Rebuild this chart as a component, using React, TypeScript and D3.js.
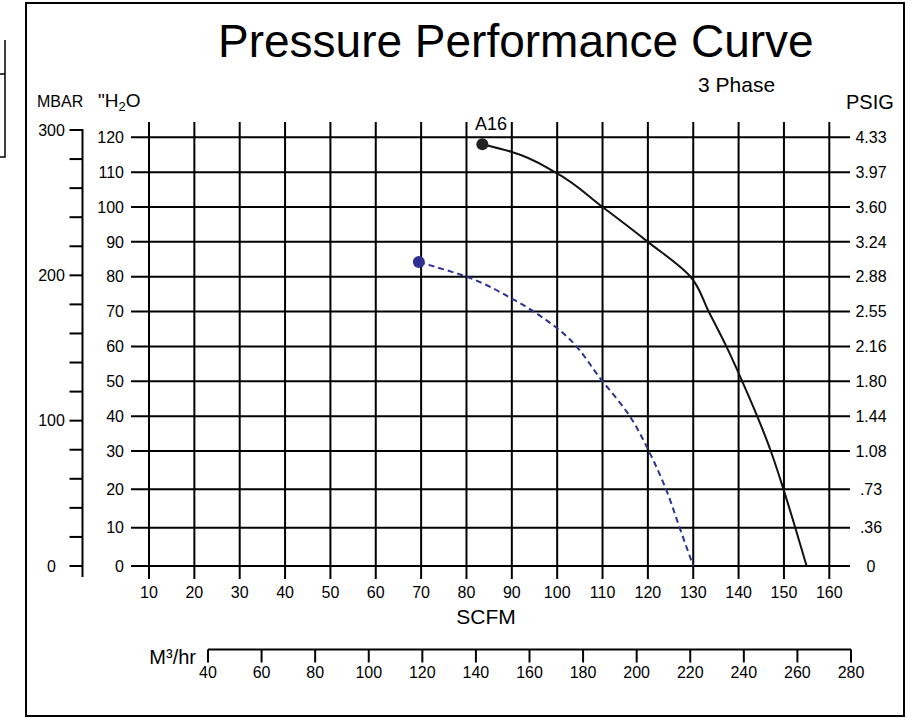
import React, { useEffect, useRef } from 'react';
import * as d3 from 'd3';

// axis values
const scfmTicks = [10, 20, 30, 40, 50, 60, 70, 80, 90, 100, 110, 120, 130, 140, 150, 160];
const h2oTicks = [0, 10, 20, 30, 40, 50, 60, 70, 80, 90, 100, 110, 120];
const psigLabels = ['0', '.36', '.73', '1.08', '1.44', '1.80', '2.16', '2.55', '2.88', '3.24', '3.60', '3.97', '4.33'];
const mbarTicks = [0, 20, 40, 60, 80, 100, 120, 140, 160, 180, 200, 220, 240, 260, 280, 300];
const mbarLabels = [0, 100, 200, 300];
const m3hrTicks = [40, 60, 80, 100, 120, 140, 160, 180, 200, 220, 240, 260, 280];

// A16 curve (solid black)
const a16Scfm = [83.5, 90, 99.5, 110, 120, 129.4, 133.4, 137.3, 140.8, 144.1, 147.1, 149.9, 152.5, 155];
const a16H2o = [118, 115.8, 110, 100, 90, 80, 70, 60, 50, 40, 30, 20, 10, 0];

// dashed blue curve
const dashScfm = [69.5, 80, 90.3, 100.4, 110, 116, 120.2, 124, 127, 130];
const dashH2o = [84.2, 80, 73.5, 64.8, 50, 40, 30, 20, 10, 0];

const FONT = "'Liberation Sans', Arial, sans-serif";
const BLUE = '#2e3192';

const PressureChart: React.FC = () => {
  const ref = useRef<SVGSVGElement>(null);

  useEffect(() => {
    if (!ref.current) return;
    const svg = d3.select(ref.current);
    svg.selectAll('*').remove();
    svg.attr('font-family', FONT);

    const x = d3.scaleLinear().domain([10, 160]).range([149, 829.3]);
    // the printed grid is slightly uneven below 30
    const y = d3.scaleLinear().domain([0, 30, 120]).range([566, 451, 137.3]);
    const yMbar = d3.scaleLinear().domain([0, 300]).range([566, 130]);
    const xM3 = d3.scaleLinear().domain([40, 280]).range([208, 851]);

    const gridLeft = 131;
    const gridRight = 850;

    // frame
    svg.append('rect')
      .attr('x', 26).attr('y', 3)
      .attr('width', 878).attr('height', 713)
      .attr('fill', 'none').attr('stroke', '#000').attr('stroke-width', 2);

    // stray box at left edge
    svg.append('path')
      .attr('d', 'M5,40 L5,157 L0,157 M0,74 L5,74')
      .attr('fill', 'none').attr('stroke', '#000').attr('stroke-width', 1.5);

    // title
    svg.append('text')
      .attr('x', 218).attr('y', 57)
      .attr('font-size', 46)
      .text('Pressure Performance Curve');
    svg.append('text')
      .attr('x', 698).attr('y', 92)
      .attr('font-size', 21)
      .text('3 Phase');

    // grid
    const grid = svg.append('g').attr('stroke', '#000').attr('stroke-width', 2);
    grid.selectAll('line.h')
      .data(h2oTicks)
      .join('line')
      .attr('x1', gridLeft).attr('x2', gridRight)
      .attr('y1', d => y(d)).attr('y2', d => y(d));
    grid.selectAll('line.v')
      .data(scfmTicks)
      .join('line')
      .attr('x1', d => x(d)).attr('x2', d => x(d))
      .attr('y1', 122).attr('y2', 579);

    // inH2O labels
    svg.append('g')
      .attr('font-size', 16).attr('text-anchor', 'end')
      .selectAll('text')
      .data(h2oTicks)
      .join('text')
      .attr('x', 124).attr('y', d => y(d) + 5.7)
      .text(d => d);

    // PSIG labels
    svg.append('g')
      .attr('font-size', 16).attr('text-anchor', 'middle')
      .selectAll('text')
      .data(h2oTicks)
      .join('text')
      .attr('x', 871).attr('y', d => y(d) + 5.7)
      .text((d, i) => psigLabels[i]);

    // SCFM labels
    svg.append('g')
      .attr('font-size', 16).attr('text-anchor', 'middle')
      .selectAll('text')
      .data(scfmTicks)
      .join('text')
      .attr('x', d => x(d)).attr('y', 597.5)
      .text(d => d);

    svg.append('text')
      .attr('x', 486).attr('y', 624)
      .attr('font-size', 21).attr('text-anchor', 'middle')
      .text('SCFM');

    // MBAR axis
    const mbar = svg.append('g');
    mbar.append('line')
      .attr('x1', 82.5).attr('x2', 82.5)
      .attr('y1', yMbar(300) - 1).attr('y2', 577)
      .attr('stroke', '#000').attr('stroke-width', 2);
    mbar.selectAll('line.t')
      .data(mbarTicks)
      .join('line')
      .attr('x1', 69.5).attr('x2', 82.5)
      .attr('y1', d => yMbar(d)).attr('y2', d => yMbar(d))
      .attr('stroke', '#000').attr('stroke-width', 2);
    mbar.selectAll('text')
      .data(mbarLabels)
      .join('text')
      .attr('x', 51.5).attr('y', d => yMbar(d) + 5.7)
      .attr('font-size', 16).attr('text-anchor', 'middle')
      .text(d => d);

    svg.append('text')
      .attr('x', 37).attr('y', 106.5)
      .attr('font-size', 16)
      .text('MBAR');

    const h2oTitle = svg.append('text')
      .attr('x', 98).attr('y', 107)
      .attr('font-size', 19);
    h2oTitle.append('tspan').text('"H');
    h2oTitle.append('tspan').attr('font-size', 13).attr('dy', 4).text('2');
    h2oTitle.append('tspan').attr('dy', -4).text('O');

    svg.append('text')
      .attr('x', 846).attr('y', 108.5)
      .attr('font-size', 20)
      .text('PSIG');

    // M3/hr axis
    const m3 = svg.append('g');
    m3.append('line')
      .attr('x1', xM3(40)).attr('x2', xM3(280))
      .attr('y1', 649.5).attr('y2', 649.5)
      .attr('stroke', '#000').attr('stroke-width', 2);
    m3.selectAll('line.t')
      .data(m3hrTicks)
      .join('line')
      .attr('x1', d => xM3(d)).attr('x2', d => xM3(d))
      .attr('y1', 649.5).attr('y2', 662.5)
      .attr('stroke', '#000').attr('stroke-width', 2);
    m3.selectAll('text')
      .data(m3hrTicks)
      .join('text')
      .attr('x', d => xM3(d)).attr('y', 677.5)
      .attr('font-size', 16).attr('text-anchor', 'middle')
      .text(d => d);
    svg.append('text')
      .attr('x', 196).attr('y', 663.5)
      .attr('font-size', 20).attr('text-anchor', 'end')
      .text('M³/hr');

    // curves (pixel y grows steadily along each curve)
    const line = d3.line<[number, number]>()
      .x(d => x(d[0]))
      .y(d => y(d[1]))
      .curve(d3.curveMonotoneY);

    const a16: [number, number][] = a16Scfm.map((s, i) => [s, a16H2o[i]]);
    const dash: [number, number][] = dashScfm.map((s, i) => [s, dashH2o[i]]);

    svg.append('path')
      .attr('d', line(dash))
      .attr('fill', 'none').attr('stroke', BLUE)
      .attr('stroke-width', 2).attr('stroke-dasharray', '6,4');

    svg.append('path')
      .attr('d', line(a16))
      .attr('fill', 'none').attr('stroke', '#111')
      .attr('stroke-width', 2);

    svg.append('circle')
      .attr('cx', x(dash[0][0])).attr('cy', y(dash[0][1]))
      .attr('r', 6).attr('fill', BLUE);
    svg.append('circle')
      .attr('cx', x(a16[0][0])).attr('cy', y(a16[0][1]))
      .attr('r', 6).attr('fill', '#222');

    svg.append('text')
      .attr('x', 475).attr('y', 130)
      .attr('font-size', 18)
      .text('A16');
  }, []);

  return <svg ref={ref} width={915} height={718} style={{ display: 'block' }} />;
};

export default function App() {
  return (
    <div style={{ position: 'absolute', left: 0, top: 0, width: 915, height: 718, background: '#fff' }}>
      <PressureChart />
    </div>
  );
}
